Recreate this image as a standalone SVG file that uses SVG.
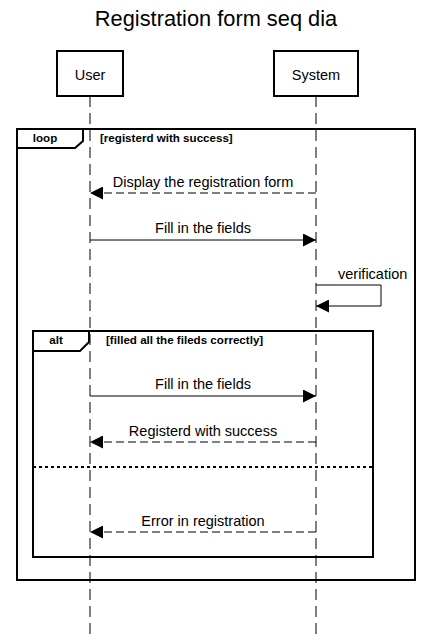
<svg xmlns="http://www.w3.org/2000/svg" width="432" height="638" viewBox="0 0 432 638">
<style>
text{font-family:"Liberation Sans",Arial,sans-serif;fill:#000}
.title{font-size:21.8px;text-anchor:middle}
.lbl{font-size:14.5px;text-anchor:middle}
.start{text-anchor:start}
.frm{font-size:11.6px;font-weight:bold}
.mid{text-anchor:middle}
.box{fill:#fff;stroke:#000;stroke-width:2}
.frame{fill:none;stroke:#000;stroke-width:2}
.tab{fill:#fff;stroke:#000;stroke-width:2;stroke-linejoin:miter}
.life{stroke:#000;stroke-width:1;stroke-dasharray:11 6;fill:none}
.msg{stroke:#000;stroke-width:1;fill:none}
.ret{stroke:#000;stroke-width:1;stroke-dasharray:8 4;fill:none}
.div{stroke:#000;stroke-width:2;stroke-dasharray:3 3;fill:none}
</style>
<defs>
<marker id="ah" markerUnits="userSpaceOnUse" markerWidth="13" markerHeight="13" refX="13" refY="6.5" orient="auto">
<path d="M0,0 L13,6.5 L0,13 z" fill="#000"/>
</marker>
</defs>
<rect width="432" height="638" fill="#fff"/>
<text class="title" x="216" y="26">Registration form seq dia</text>
<g id="lifelines">
<line class="life" x1="90" y1="96" x2="90" y2="638"/>
<line class="life" x1="316" y1="96" x2="316" y2="638"/>
</g>
<g id="node-user">
<rect class="box" x="57" y="51" width="66" height="45"/>
<text class="lbl" x="90" y="80">User</text>
</g>
<g id="node-system">
<rect class="box" x="274" y="51" width="84" height="45"/>
<text class="lbl" x="316" y="80">System</text>
</g>
<g id="frame-loop">
<rect class="frame" x="17" y="129" width="398" height="451"/>
<path class="tab" d="M17,129 H83 V141 L75,148 H17 Z"/>
<text class="frm mid" x="45" y="142">loop</text>
<text class="frm" x="100" y="142">[registerd with success]</text>
</g>
<g id="frame-alt">
<rect class="frame" x="33" y="331" width="340" height="226"/>
<path class="tab" d="M33,331 H89 V342 L80,351 H33 Z"/>
<text class="frm mid" x="56" y="344">alt</text>
<text class="frm" x="106" y="344">[filled all the fileds correctly]</text>
<line class="div" x1="33" y1="467" x2="373" y2="467"/>
</g>
<g id="connectors">
<line class="ret" x1="316" y1="193" x2="90" y2="193" marker-end="url(#ah)"/>
<text class="lbl" x="203" y="187">Display the registration form</text>
<line class="msg" x1="90" y1="240" x2="316" y2="240" marker-end="url(#ah)"/>
<text class="lbl" x="203" y="232.5">Fill in the fields</text>
<path class="msg" d="M316,285 H381 V306 H316" marker-end="url(#ah)"/>
<text class="lbl start" x="338" y="279">verification</text>
<line class="msg" x1="90" y1="396" x2="316" y2="396" marker-end="url(#ah)"/>
<text class="lbl" x="203" y="389">Fill in the fields</text>
<line class="ret" x1="316" y1="442" x2="90" y2="442" marker-end="url(#ah)"/>
<text class="lbl" x="203" y="435.5">Registerd with success</text>
<line class="ret" x1="316" y1="532" x2="90" y2="532" marker-end="url(#ah)"/>
<text class="lbl" x="203" y="526">Error in registration</text>
</g>
</svg>
